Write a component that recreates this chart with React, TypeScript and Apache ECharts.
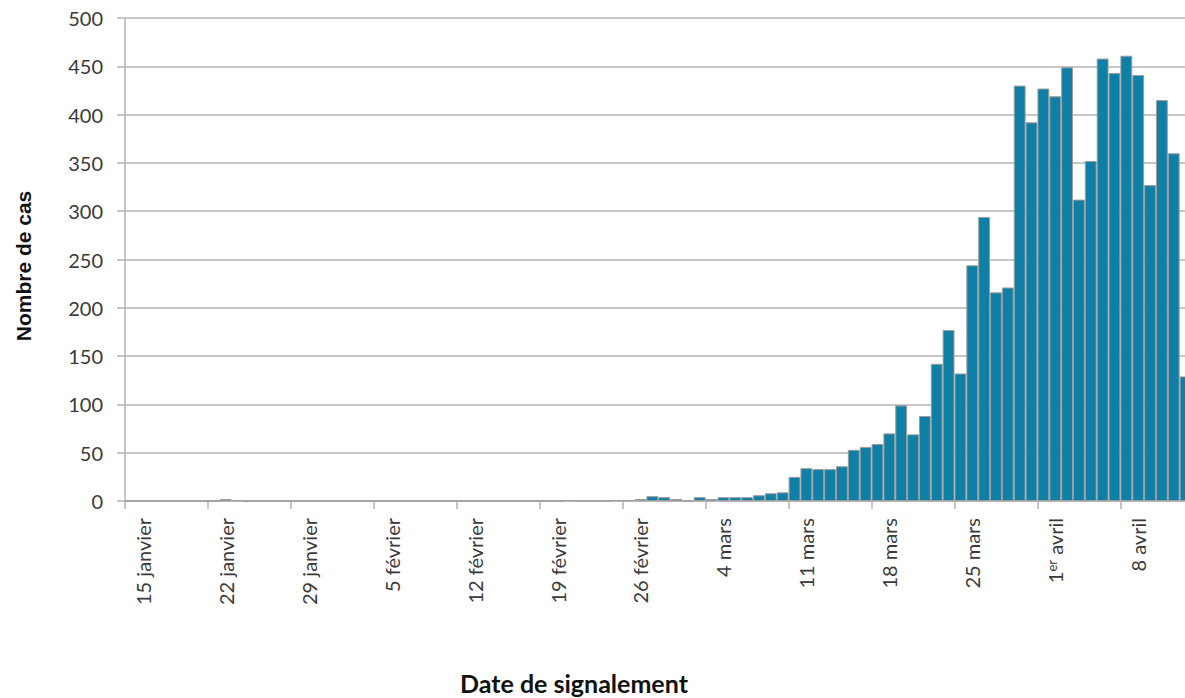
import React, { useEffect, useRef } from "react";
import * as echarts from "echarts";

// Daily reported cases, one value per day starting 14 January 2020
const START_DATE = Date.UTC(2020, 0, 14);
const cases = [
  0, 0, 0, 0, 0, 0, 0, 0, 2, 1,
  0, 0, 0, 0, 0, 0, 0, 0, 0, 0,
  0, 0, 0, 0, 0, 0, 0, 0, 0, 0,
  0, 0, 0, 0, 0, 0, 0, 1, 0, 0,
  0, 1, 1, 2, 5, 4, 2, 0, 4, 2,
  4, 4, 4, 6, 8, 9, 25, 34, 33, 33,
  36, 53, 56, 59, 70, 99, 69, 88, 142, 177,
  132, 244, 294, 216, 221, 430, 392, 427, 419, 449,
  312, 352, 458, 443, 461, 441, 327, 415, 360, 129,
];

// Weekly tick labels (shown on day index 1, 8, 15, ...)
const tickLabels = [
  "15 janvier",
  "22 janvier",
  "29 janvier",
  "5 février",
  "12 février",
  "19 février",
  "26 février",
  "4 mars",
  "11 mars",
  "18 mars",
  "25 mars",
  "1{sup|er} avril",
  "8 avril",
];

const yTicks = { min: 0, max: 500, interval: 50 };

const categories = cases.map((_, i) => {
  const d = new Date(START_DATE + i * 86400000);
  return d.toISOString().slice(0, 10);
});

export default function App() {
  const ref = useRef<HTMLDivElement>(null);

  useEffect(() => {
    if (!ref.current) return;
    const chart = echarts.init(ref.current, null, { renderer: "svg" });
    const textColor = "#3a3a3a";
    const gridColor = "#b4b4b4";
    chart.setOption({
      animation: false,
      backgroundColor: "#ffffff",
      grid: { left: 125, top: 18, width: 1066.5, height: 483, containLabel: false },
      xAxis: {
        type: "category",
        data: categories,
        boundaryGap: true,
        axisLine: { show: true, lineStyle: { color: gridColor, width: 1.5 } },
        axisTick: {
          show: true,
          length: 8,
          interval: (i: number) => i % 7 === 0,
          lineStyle: { color: gridColor, width: 1.5 },
        },
        axisLabel: {
          interval: (i: number) => i % 7 === 1,
          rotate: 90,
          margin: 17,
          color: textColor,
          fontFamily: "Lato",
          fontSize: 20,
          formatter: (_v: string, i: number) =>
            i % 7 === 1 ? tickLabels[(i - 1) / 7] ?? "" : "",
          rich: {
            sup: {
              fontFamily: "Lato",
              fontSize: 13,
              color: textColor,
              verticalAlign: "top",
            },
          },
        },
        splitLine: { show: false },
      },
      yAxis: {
        type: "value",
        min: yTicks.min,
        max: yTicks.max,
        interval: yTicks.interval,
        axisLine: { show: true, lineStyle: { color: gridColor, width: 1.5 } },
        axisTick: { show: true, length: 8, lineStyle: { color: gridColor, width: 1.5 } },
        axisLabel: {
          margin: 22,
          color: textColor,
          fontFamily: "Lato",
          fontSize: 20,
        },
        splitLine: { show: true, lineStyle: { color: gridColor, width: 1.5 } },
      },
      series: [
        {
          type: "bar",
          data: cases,
          barCategoryGap: "0%",
          itemStyle: { color: "#107fa6", borderColor: "#9c9c9c", borderWidth: 1 },
        },
      ],
      graphic: [
        {
          type: "text",
          x: 23,
          y: 266,
          rotation: Math.PI / 2,
          style: {
            text: "Nombre de cas",
            font: "bold 21px 'Liberation Sans', Arial, sans-serif",
            fill: "#111111",
            textAlign: "center",
            textVerticalAlign: "middle",
          },
        },
        {
          type: "text",
          x: 574,
          y: 683,
          style: {
            text: "Date de signalement",
            font: "bold 25px Lato, sans-serif",
            fill: "#111111",
            textAlign: "center",
            textVerticalAlign: "middle",
          },
        },
      ],
    });
    return () => chart.dispose();
  }, []);

  return (
    <div
      style={{
        position: "absolute",
        left: 0,
        top: 0,
        width: 1185,
        height: 698,
        overflow: "hidden",
        background: "#ffffff",
      }}
    >
      <div ref={ref} style={{ width: 1200, height: 698 }} />
    </div>
  );
}
